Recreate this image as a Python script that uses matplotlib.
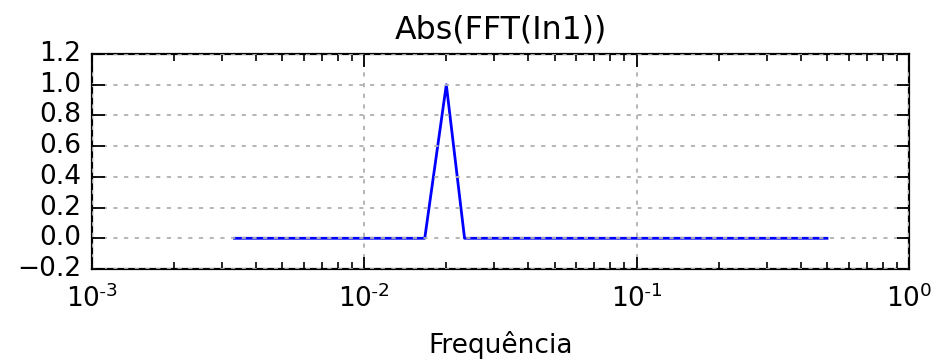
import matplotlib
matplotlib.use("Agg")
import matplotlib.pyplot as plt
from matplotlib.ticker import FixedLocator, FixedFormatter

plt.style.use("classic")

# FFT frequencies (only the points where the curve changes) and magnitudes
freqs = [1/300, 5/300, 6/300, 7/300, 150/300]
mags = [0.0, 0.0, 1.0, 0.0, 0.0]

title = "Abs(FFT(In1))"
xlabel = "Frequência"
xtick_vals = [1e-3, 1e-2, 1e-1, 1e0]
xtick_labels = [r"$\mathdefault{10^{\text{-}3}}$", r"$\mathdefault{10^{\text{-}2}}$",
                r"$\mathdefault{10^{\text{-}1}}$", r"$\mathdefault{10^{0}}$"]
ytick_vals = [-0.2, 0.0, 0.2, 0.4, 0.6, 0.8, 1.0, 1.2]

fig = plt.figure(figsize=(9.51, 3.6), dpi=100, facecolor="white")
ax = fig.add_axes([92/951, 1 - 269/360, (909-92)/951, (269-54)/360])
ax.plot(freqs, mags, color="blue", linewidth=2)
ax.set_xscale("log")
ax.set_xlim(1e-3, 1)
ax.set_ylim(-0.2, 1.2)
ax.xaxis.set_major_locator(FixedLocator(xtick_vals))
ax.xaxis.set_major_formatter(FixedFormatter(xtick_labels))
ax.set_yticks(ytick_vals)
ax.grid(True, color="#b0b0b0", linestyle=(0, (3, 4.7)), linewidth=1.3)
ax.set_title(title, fontsize=22.8, pad=11)
ax.set_xlabel(xlabel, fontsize=19)
ax.xaxis.set_label_coords(0.5, -0.29)
ax.tick_params(which="major", labelsize=19, length=9, width=1.3, pad=8)
ax.tick_params(axis="x", which="major", pad=11)
ax.tick_params(which="minor", length=5, width=1.2)
for s in ax.spines.values():
    s.set_linewidth(1.6)

fig.savefig("out.png", dpi=100, facecolor="white")
